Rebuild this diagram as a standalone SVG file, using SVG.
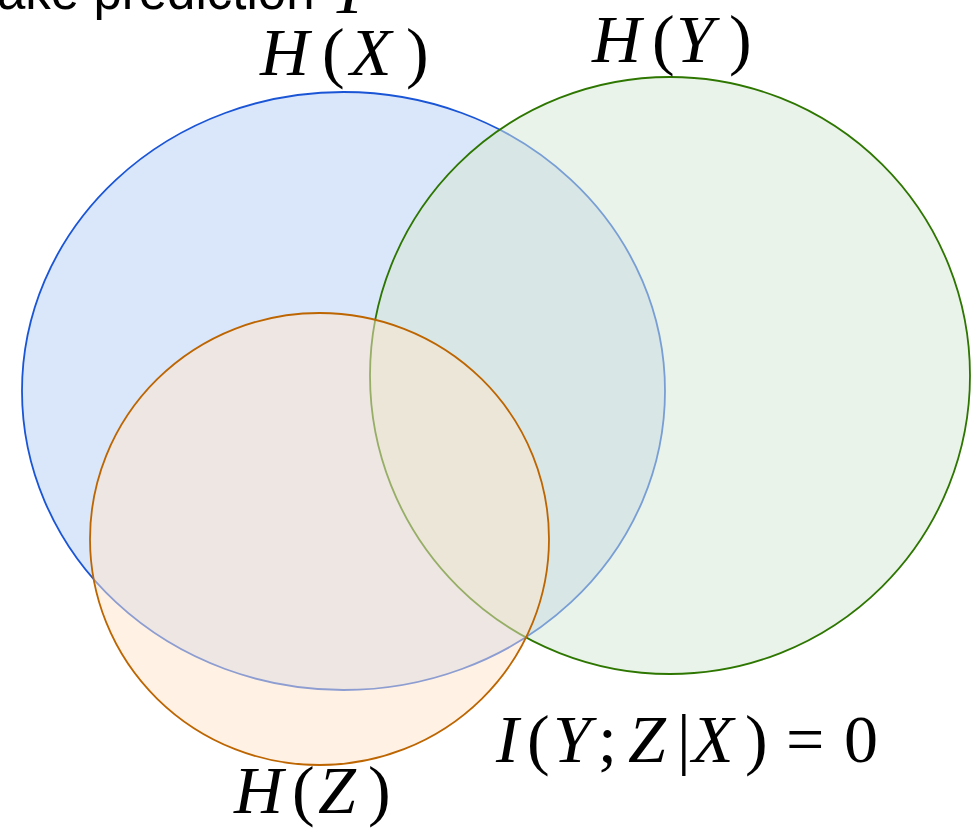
<svg xmlns="http://www.w3.org/2000/svg" width="971" height="829" viewBox="0 0 971 829">
<style>
.m{font-family:"Liberation Serif","Times New Roman",serif;font-size:68px;fill:#000}
.i{font-style:italic}
.s{font-family:"Liberation Sans",Arial,sans-serif;font-size:51px;fill:#000}
.e{stroke-width:1.8}
</style>
<rect width="971" height="829" fill="#fff"/>
<g id="hx-circle"><ellipse class="e" cx="343.5" cy="391" rx="321.5" ry="299" fill="#dae6f9" stroke="#1a55d6"/></g>
<g id="hy-circle"><ellipse class="e" cx="670" cy="375.5" rx="300" ry="298.5" fill="#d5e8d4" fill-opacity="0.5" stroke="#2d7600"/></g>
<g id="hz-circle"><ellipse class="e" cx="319.5" cy="539" rx="229.5" ry="226" fill="#ffe6cc" fill-opacity="0.5" stroke="#bd6500"/></g>
<g id="top-text"><text class="s" x="-3" y="9">ake prediction</text><text class="m i" x="330" y="13">Y</text></g>
<g id="label-hx"><text class="m" y="75"><tspan class="i" x="260">H</tspan><tspan x="322">(</tspan><tspan class="i" x="350">X</tspan><tspan x="406">)</tspan></text></g>
<g id="label-hy"><text class="m" y="62"><tspan class="i" x="592">H</tspan><tspan x="652">(</tspan><tspan class="i" x="676">Y</tspan><tspan x="729">)</tspan></text></g>
<g id="label-hz"><text class="m" y="813"><tspan class="i" x="234">H</tspan><tspan x="292">(</tspan><tspan class="i" x="318">Z</tspan><tspan x="368">)</tspan></text></g>
<g id="label-i"><text class="m" y="762"><tspan class="i" x="496">I</tspan><tspan x="527">(</tspan><tspan class="i" x="553">Y</tspan><tspan x="598">;</tspan><tspan class="i" x="628">Z</tspan><tspan x="677">|</tspan><tspan class="i" x="692">X</tspan><tspan x="745">)</tspan><tspan x="786">=</tspan><tspan x="844">0</tspan></text></g>
</svg>
